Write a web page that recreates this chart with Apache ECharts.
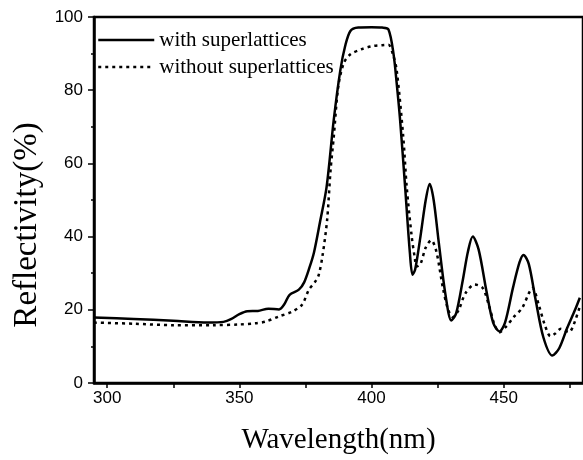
<!DOCTYPE html>
<html>
<head>
<meta charset="utf-8" />
<title></title>
<script src="https://cdn.jsdelivr.net/npm/echarts@6/dist/echarts.min.js"></script>
<style>
  body { padding: 0; margin: 0; background: #fff; }
</style>
</head>
<body>
<div id="main" style="width: 583px; height: 460px;"></div>
<script type="text/javascript">
// with superlattices (solid)
var withWl = [295, 310, 325, 338, 344, 347, 350, 353, 357, 361, 365, 367, 369, 372.5, 374.5, 376.5, 378.2, 380.5, 383, 385.7, 388.2, 390, 392, 395, 400, 404, 406.4, 408.3, 409.5, 410.8, 412.7, 414.5, 415.5, 416.5, 418.5, 420.5, 422, 423.5, 425.5, 428, 430.2, 432, 434.5, 436.5, 438.3, 440.5, 443.5, 446, 448.4, 450.5, 453.5, 456, 457.5, 459.5, 462, 465, 468.4, 471, 474, 477, 478.8];
var withR = [17.9, 17.5, 17.0, 16.5, 16.7, 17.5, 18.8, 19.6, 19.7, 20.3, 20.1, 21.5, 24.1, 25.5, 27.5, 31.5, 35.6, 44, 53.6, 71.9, 85.5, 92, 96.2, 97.1, 97.2, 97.1, 96.6, 90, 82, 71.9, 53.6, 35.6, 29.6, 31, 40, 50, 54.4, 50, 38, 24, 17.1, 19, 28, 36, 40, 36.5, 25, 16.5, 14.1, 16.5, 26, 33, 35, 32.5, 23, 12.5, 7.5, 9.5, 15, 20, 23.3];

// without superlattices (dotted)
var withoutWl = [295, 310, 325, 340, 350, 356, 360, 365, 370, 373.7, 376.3, 378.5, 380, 381.5, 383.2, 384.5, 385.7, 387.4, 389.5, 392, 396.2, 400, 404, 406.4, 408, 409.5, 412, 413.3, 415.2, 416.4, 417, 418.5, 420.5, 422.6, 424.5, 427, 429, 430.8, 433, 435.5, 439, 442, 444.5, 446.5, 448.4, 451, 454, 457, 459.5, 460.9, 463.4, 465.5, 467.7, 469.5, 471.6, 474.7, 476.5, 478.4, 479];
var withoutR = [16.5, 16.2, 15.8, 15.8, 16.0, 16.3, 16.8, 18.2, 19.5, 21.4, 25.5, 27.5, 29.5, 35, 44.6, 58.2, 67.2, 80.9, 87.4, 89.8, 91.2, 92, 92.3, 92.4, 90, 85.5, 67.2, 53.6, 40, 34, 31.8, 32.5, 37, 39, 36, 26, 20, 18, 20, 24.5, 26.9, 26, 21, 16, 13.9, 15.5, 18.2, 20.5, 24.5, 26, 21, 16, 12.8, 13.5, 14.8, 13.9, 16, 20, 21];

var xMajor = [300, 350, 400, 450];
var xMinor = [300, 325, 350, 375, 400, 425, 450, 475];

function pairs(xs, ys) {
  return xs.map(function (x, i) { return [x, ys[i]]; });
}

var mychart = echarts.init(document.getElementById('main'));

var tickFont = { fontFamily: 'Liberation Sans, Arial', fontSize: 17, color: '#000' };

mychart.setOption({
  animation: false,
  grid: {
    left: 94, top: 17, right: -3, bottom: 77,
    show: true, borderColor: '#000', borderWidth: 2.5, backgroundColor: 'transparent'
  },
  legend: {
    orient: 'vertical',
    left: 92,
    top: 24.5,
    itemWidth: 56,
    itemHeight: 14,
    itemGap: 6,
    itemStyle: { opacity: 0 },
    lineStyle: { width: 2.5 },
    textStyle: { fontFamily: 'Liberation Serif, Times New Roman', fontSize: 21, color: '#000', lineHeight: 21 },
    data: ['with superlattices', 'without superlattices']
  },
  xAxis: {
    type: 'value',
    min: 295,
    max: 480,
    name: 'Wavelength(nm)',
    nameLocation: 'middle',
    nameGap: 43,
    nameTextStyle: { fontFamily: 'Liberation Serif, Times New Roman', fontSize: 29, color: '#000' },
    axisLine: { show: true, lineStyle: { color: '#000', width: 2.5 } },
    axisTick: { show: true, inside: false, length: 5, lineStyle: { width: 1.5 }, customValues: xMinor },
    axisLabel: Object.assign({ margin: 7, customValues: xMajor }, tickFont),
    splitLine: { show: false }
  },
  yAxis: {
    type: 'value',
    min: 0,
    max: 100,
    interval: 20,
    name: 'Reflectivity(%)',
    nameLocation: 'middle',
    nameGap: 50,
    nameTextStyle: { fontFamily: 'Liberation Serif, Times New Roman', fontSize: 33, color: '#000', padding: [0, 50, 0, 0] },
    axisLine: { show: true, lineStyle: { color: '#000', width: 2.5 } },
    axisTick: { show: true, inside: false, length: 6, lineStyle: { width: 1.5 } },
    minorTick: { show: true, splitNumber: 2, length: 3, lineStyle: { color: '#000', width: 1.5 } },
    axisLabel: Object.assign({ margin: 11 }, tickFont),
    splitLine: { show: false }
  },
  series: [
    {
      name: 'with superlattices',
      type: 'line',
      data: pairs(withWl, withR),
      symbol: 'none',
      smooth: 0.3,
      lineStyle: { color: '#000', width: 2.5 },
      itemStyle: { color: '#000' }
    },
    {
      name: 'without superlattices',
      type: 'line',
      data: pairs(withoutWl, withoutR),
      symbol: 'none',
      smooth: 0.3,
      lineStyle: { color: '#000', width: 2.5, type: [3, 4] },
      itemStyle: { color: '#000' }
    }
  ]
});
</script>
</body>
</html>
